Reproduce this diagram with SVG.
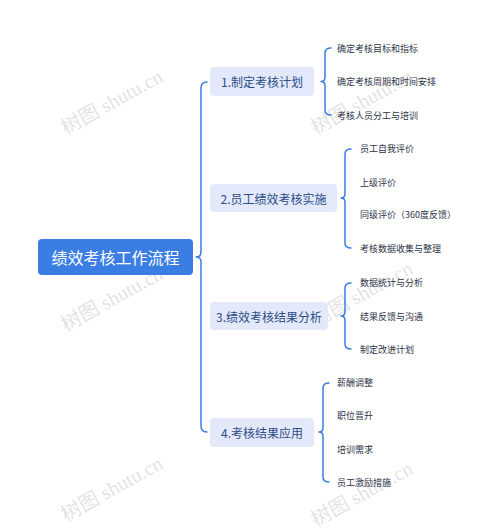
<svg xmlns="http://www.w3.org/2000/svg" width="500" height="531" viewBox="0 0 500 531">
<style>
.br{fill:none;stroke:#3b7de2;stroke-width:1.5;stroke-linecap:round;stroke-linejoin:round}
.root{fill:#3a7ee4}
.rt{fill:#fff;font-family:"Noto Sans CJK SC","Noto Sans",sans-serif;font-size:16px;text-anchor:middle;dominant-baseline:central}
.tp{fill:#e3e9fb}
.tt{fill:#2b4c86;font-family:"Noto Sans CJK SC","Noto Sans",sans-serif;font-size:12px;text-anchor:middle;dominant-baseline:central}
.lf{fill:#2d3448;font-family:"Noto Sans CJK SC","Noto Sans",sans-serif;font-size:9px;dominant-baseline:central}
.wm{fill:#cfcfcf;fill-opacity:0.6;font-family:"Liberation Serif","Noto Sans CJK SC",serif;font-size:20px}
</style>
<rect width="500" height="531" fill="#fff"/>
<g id="watermarks">
<text class="wm" transform="translate(66,135) rotate(-29)">树图 shutu.cn</text>
<text class="wm" transform="translate(316,135) rotate(-29)">树图 shutu.cn</text>
<text class="wm" transform="translate(66,332) rotate(-29)">树图 shutu.cn</text>
<text class="wm" transform="translate(316,327) rotate(-29)">树图 shutu.cn</text>
<text class="wm" transform="translate(66,522) rotate(-29)">树图 shutu.cn</text>
<text class="wm" transform="translate(316,527) rotate(-29)">树图 shutu.cn</text>
</g>
<g id="connectors">
<path class="br" d="M207,82 Q201,82 201,88 L201,252 Q201,257 196,257 Q201,257 201,262 L201,426 Q201,432 207,432"/>
<path class="br" d="M331,48 Q325,48 325,53 L325,77 Q325,81.5 321,81.5 Q325,81.5 325,86 L325,110 Q325,115 331,115"/>
<path class="br" d="M351,149 Q345,149 345,154 L345,193.5 Q345,198 341,198 Q345,198 345,202.5 L345,243 Q345,248 351,248"/>
<path class="br" d="M351,283 Q345,283 345,288 L345,311.5 Q345,316 341,316 Q345,316 345,320.5 L345,344 Q345,349 351,349"/>
<path class="br" d="M329,383 Q323,383 323,388 L323,427.5 Q323,432 319,432 Q323,432 323,436.5 L323,477 Q323,482 329,482"/>
</g>
<g id="root">
<rect class="root" x="38" y="239" width="155" height="36" rx="4"/>
<text class="rt" x="115.5" y="257">绩效考核工作流程</text>
</g>
<g id="t1">
<rect class="tp" x="210" y="67" width="104" height="29" rx="4"/>
<text class="tt" x="262" y="81.5">1.制定考核计划</text>
</g>
<g id="t2">
<rect class="tp" x="210" y="184" width="127" height="28" rx="4"/>
<text class="tt" x="273.5" y="198">2.员工绩效考核实施</text>
</g>
<g id="t3">
<rect class="tp" x="210" y="302" width="118" height="28" rx="4"/>
<text class="tt" x="269" y="316">3.绩效考核结果分析</text>
</g>
<g id="t4">
<rect class="tp" x="210" y="418" width="104" height="29" rx="4"/>
<text class="tt" x="262" y="432.5">4.考核结果应用</text>
</g>
<g id="l1a"><text class="lf" x="337" y="48">确定考核目标和指标</text></g>
<g id="l1b"><text class="lf" x="337" y="81.5">确定考核周期和时间安排</text></g>
<g id="l1c"><text class="lf" x="337" y="115">考核人员分工与培训</text></g>
<g id="l2a"><text class="lf" x="360" y="148">员工自我评价</text></g>
<g id="l2b"><text class="lf" x="360" y="182">上级评价</text></g>
<g id="l2c"><text class="lf" x="360" y="214.5">同级评价（360度反馈）</text></g>
<g id="l2d"><text class="lf" x="360" y="248">考核数据收集与整理</text></g>
<g id="l3a"><text class="lf" x="360" y="282.5">数据统计与分析</text></g>
<g id="l3b"><text class="lf" x="360" y="316">结果反馈与沟通</text></g>
<g id="l3c"><text class="lf" x="360" y="349">制定改进计划</text></g>
<g id="l4a"><text class="lf" x="337" y="382.5">薪酬调整</text></g>
<g id="l4b"><text class="lf" x="337" y="415.5">职位晋升</text></g>
<g id="l4c"><text class="lf" x="337" y="449">培训需求</text></g>
<g id="l4d"><text class="lf" x="337" y="482">员工激励措施</text></g>
</svg>
